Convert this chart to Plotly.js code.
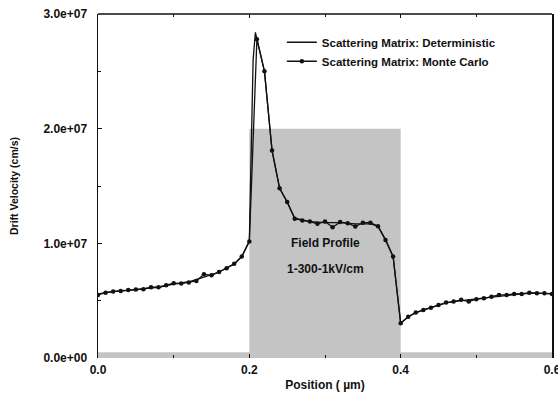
<!DOCTYPE html>
<html>
<head>
<meta charset="utf-8">
<script src="https://cdn.plot.ly/plotly-3.0.1.min.js"></script>
<style>html,body{margin:0;padding:0;background:#fff;}#chart{width:558px;height:394px;}</style>
</head>
<body>
<div id="chart"></div>
<script>
// Monte Carlo scattering-matrix points (position in um, drift velocity in cm/s)
const mcX = [0.00,0.01,0.02,0.03,0.04,0.05,0.06,0.07,0.08,0.09,0.10,0.11,0.12,0.13,0.14,0.15,0.16,0.17,0.18,0.19,0.20,
             0.21,0.22,0.23,0.24,0.25,0.26,0.27,0.28,0.29,0.30,0.31,0.32,0.33,0.34,0.35,0.36,0.37,0.38,0.39,0.40,
             0.41,0.42,0.43,0.44,0.45,0.46,0.47,0.48,0.49,0.50,0.51,0.52,0.53,0.54,0.55,0.56,0.57,0.58,0.59,0.60];
const mcY = [5.50e6,5.70e6,5.79e6,5.85e6,5.94e6,5.97e6,6.00e6,6.17e6,6.17e6,6.35e6,6.52e6,6.49e6,6.58e6,6.72e6,7.31e6,7.21e6,7.50e6,7.83e6,8.21e6,8.85e6,1.016e7,
             2.78e7,2.50e7,1.81e7,1.48e7,1.36e7,1.214e7,1.20e7,1.19e7,1.17e7,1.19e7,1.14e7,1.185e7,1.176e7,1.147e7,1.18e7,1.18e7,1.15e7,1.03e7,8.85e6,3.03e6,
             3.60e6,3.96e6,4.19e6,4.39e6,4.63e6,4.83e6,4.92e6,5.07e6,4.92e6,5.13e6,5.21e6,5.35e6,5.50e6,5.50e6,5.59e6,5.59e6,5.70e6,5.65e6,5.65e6,5.59e6];

// Deterministic scattering-matrix curve
const detX = [0.00,0.02,0.04,0.06,0.08,0.10,0.12,0.14,0.16,0.18,0.19,0.20,0.205,0.208,0.22,0.23,0.24,0.25,0.26,0.28,0.30,0.32,0.34,0.36,0.37,0.38,0.39,0.40,
              0.41,0.42,0.44,0.46,0.48,0.50,0.52,0.54,0.56,0.58,0.60];
const detY = [5.60e6,5.80e6,5.92e6,6.02e6,6.17e6,6.45e6,6.65e6,7.05e6,7.50e6,8.20e6,8.85e6,1.02e7,2.60e7,2.84e7,2.50e7,1.81e7,1.48e7,1.36e7,1.22e7,1.19e7,1.18e7,1.18e7,1.17e7,1.17e7,1.15e7,1.03e7,8.85e6,3.03e6,
              3.60e6,3.96e6,4.40e6,4.80e6,5.00e6,5.15e6,5.35e6,5.50e6,5.60e6,5.65e6,5.62e6];

// Field profile (1-300-1 kV/cm) drawn as a shaded band
const fieldX = [0.0,0.2,0.2,0.4,0.4,0.6];
const fieldY = [5e5,5e5,2.0e7,2.0e7,5e5,5e5];

const xTicks = [0.0,0.2,0.4,0.6];
const xTickText = ["0.0","0.2","0.4","0.6"];
const yTicks = [0,1e7,2e7,3e7];
const yTickText = ["0.0e+00","1.0e+07","2.0e+07","3.0e+07"];

const FONT = "Arial, 'Liberation Sans', Helvetica, sans-serif";

const traces = [
  {x: fieldX, y: fieldY, mode: 'lines', line: {width: 0, shape: 'linear'}, fill: 'tozeroy',
   fillcolor: '#c4c4c4', showlegend: false, hoverinfo: 'skip'},
  {x: detX, y: detY, mode: 'lines', name: 'Scattering Matrix: Deterministic',
   line: {color: '#111', width: 1.3}},
  {x: mcX, y: mcY, mode: 'lines+markers', name: 'Scattering Matrix: Monte Carlo',
   line: {color: '#111', width: 1.3}, marker: {color: '#111', size: 4.5, symbol: 'circle'}}
];

const layout = {
  width: 558, height: 394,
  margin: {l: 98, r: 6, t: 14, b: 36},
  paper_bgcolor: '#fff', plot_bgcolor: '#fff',
  font: {family: FONT, color: '#111', size: 11, weight: 'bold'},
  showlegend: true,
  legend: {x: 0.405, y: 0.96, xanchor: 'left', yanchor: 'top', bgcolor: 'rgba(0,0,0,0)',
           font: {family: FONT, size: 11.5, color: '#111', weight: 'bold'}, tracegroupgap: 0, itemwidth: 30},
  xaxis: {range: [0, 0.6], tickvals: xTicks, ticktext: xTickText, ticks: 'inside', ticklen: 4,
          tickcolor: '#111', showline: false, mirror: 'ticks', zeroline: false, showgrid: false,
          ticklabeloverflow: 'allow', ticklabelstandoff: 3,
          minor: {dtick: 0.1, ticks: 'inside', ticklen: 3, tickcolor: '#111'},
          tickfont: {family: FONT, size: 12, weight: 'bold'},
          title: {text: 'Position ( µm)', font: {family: FONT, size: 12, weight: 'bold'}, standoff: 4}},
  yaxis: {range: [0, 3e7], tickvals: yTicks, ticktext: yTickText, ticks: 'inside', ticklen: 4,
          tickcolor: '#111', showline: true, mirror: true, linecolor: '#111', linewidth: 1.5,
          zeroline: false, showgrid: false, ticklabelstandoff: 7,
          minor: {dtick: 5e6, ticks: 'inside', ticklen: 3, tickcolor: '#111'},
          tickfont: {family: FONT, size: 12, weight: 'bold'},
          title: {text: 'Drift Velocity (cm/s)', font: {family: FONT, size: 10.5, weight: 'bold'}, standoff: 22}},
  shapes: [
    {type: 'line', xref: 'paper', yref: 'paper', x0: 0, x1: 1, y0: 1, y1: 1, line: {color: '#111', width: 1.5}}
  ],
  annotations: [
    {x: 0.3, y: 1.0e7, xref: 'x', yref: 'y', text: 'Field Profile', showarrow: false,
     font: {family: FONT, size: 12, weight: 'bold', color: '#111'}},
    {x: 0.3, y: 7.8e6, xref: 'x', yref: 'y', text: '1-300-1kV/cm', showarrow: false,
     font: {family: FONT, size: 12, weight: 'bold', color: '#111'}}
  ]
};

Plotly.newPlot('chart', traces, layout, {staticPlot: true, displayModeBar: false});
</script>
</body>
</html>
